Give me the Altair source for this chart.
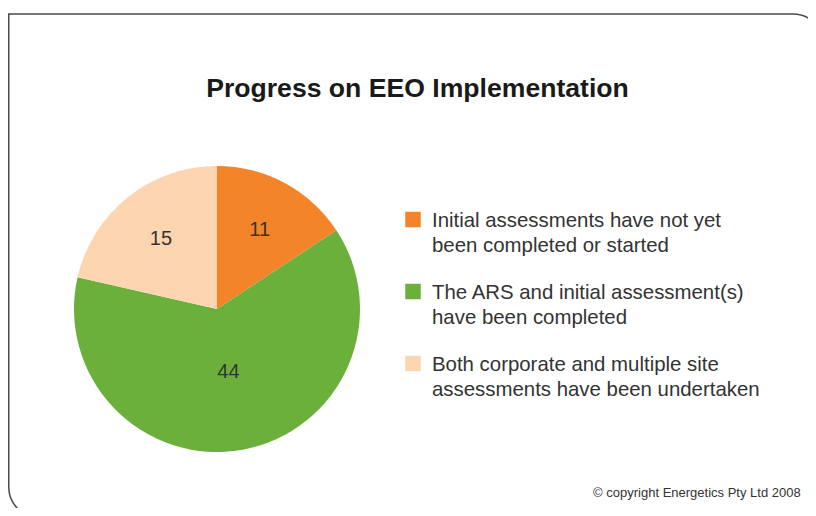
import altair as alt
import pandas as pd

# ---- data ----
categories = [
    "Initial assessments have not yet\nbeen completed or started",
    "The ARS and initial assessment(s)\nhave been completed",
    "Both corporate and multiple site\nassessments have been undertaken",
]
values = [11, 44, 15]
slice_order = [0, 1, 2]
colors = ["#F4842A", "#6CB03C", "#FDD5B0"]
title_text = "Progress on EEO Implementation"
copyright_text = "\u00a9 copyright Energetics Pty Ltd 2008"

FONT = "Liberation Sans"
TXT = "#333333"

df = pd.DataFrame({"cat": categories, "value": values, "idx": slice_order})
base = alt.Chart(df)

color_scale = alt.Scale(domain=categories, range=colors)
cx, cy = 209, 301

frame = alt.Chart(pd.DataFrame({"a": [0]})).mark_rect(
    fillOpacity=0, stroke="#4a4a4a", strokeWidth=1.5,
    cornerRadiusTopRight=31, cornerRadiusBottomLeft=31, clip=True,
).encode(x=alt.value(0.75), x2=alt.value(816), y=alt.value(6), y2=alt.value(510))

theta = alt.Theta("value:Q", stack=True)
order = alt.Order("idx:Q")

pie = base.mark_arc(outerRadius=143).encode(
    theta=theta,
    color=alt.Color("cat:N", scale=color_scale, legend=None),
    order=order,
    x=alt.value(cx), y=alt.value(cy),
)

lab_small = base.transform_calculate(
    lab="datum.value < 30 ? toString(datum.value) : ''"
).mark_text(radius=90, fontSize=20, font=FONT, color=TXT).encode(
    theta=theta, detail="cat:N", order=order, text="lab:N",
    x=alt.value(cx), y=alt.value(cy),
)

lab_big = base.transform_calculate(
    lab="datum.value >= 30 ? toString(datum.value) : ''"
).mark_text(radius=64, fontSize=20, font=FONT, color=TXT).encode(
    theta=theta, detail="cat:N", order=order, text="lab:N",
    x=alt.value(cx), y=alt.value(cy),
)

ly = alt.Y("cat:N", scale=alt.Scale(type="point", domain=categories,
                                    range=[211.5, 355.5], padding=0), axis=None)

leg_sq = base.mark_square(size=240, opacity=1).encode(
    x=alt.value(405), y=ly,
    color=alt.Color("cat:N", scale=color_scale, legend=None),
)

leg_txt = base.mark_text(
    align="left", baseline="alphabetic", dy=7, fontSize=20.4, lineBreak="\n",
    lineHeight=25, font=FONT, color=TXT,
).encode(x=alt.value(424), y=ly, text="cat:N")

title = alt.Chart(pd.DataFrame({"t": [title_text]})).mark_text(
    fontSize=26.6, fontWeight="bold", font=FONT, color="#1a1a1a",
    align="center", baseline="alphabetic",
).encode(text="t:N", x=alt.value(409.5), y=alt.value(89))

copy = alt.Chart(pd.DataFrame({"t": [copyright_text]})).mark_text(
    fontSize=13, font=FONT, color=TXT, align="right", baseline="alphabetic",
).encode(text="t:N", x=alt.value(792.7), y=alt.value(489.3))

chart = alt.layer(frame, pie, lab_small, lab_big, leg_sq, leg_txt, title, copy).properties(
    width=800, height=500,
    autosize=alt.AutoSizeParams(type="fit", contains="padding"),
    padding=0,
).configure_view(stroke=None)

chart.save("out.html", embed_options={"renderer": "svg", "actions": False})
